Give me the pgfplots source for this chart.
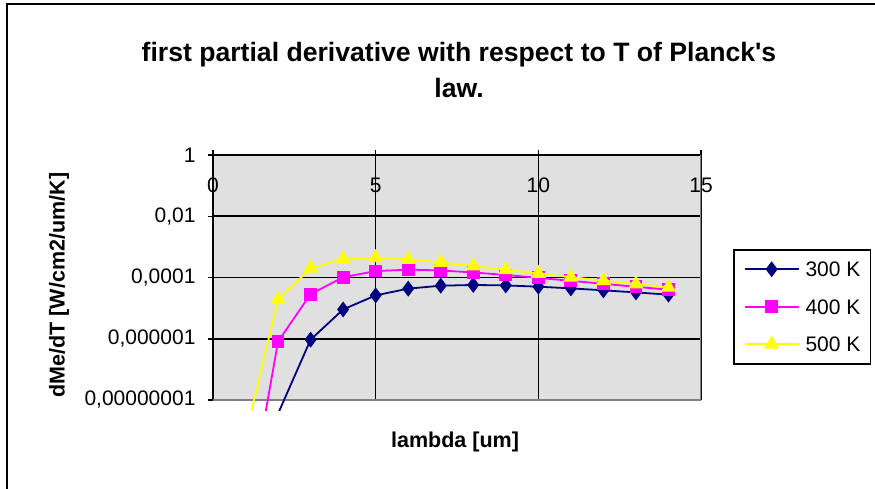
\documentclass[border=0pt]{standalone}
\usepackage{fontspec}
\setmainfont{Liberation Sans}
\usepackage{pgfplots}
\pgfplotsset{compat=1.18}
\usepackage{pgfplotstable}
\definecolor{navyS}{RGB}{0,0,128}
\definecolor{magS}{RGB}{255,0,255}
\definecolor{yelS}{RGB}{255,255,0}
\definecolor{plotbg}{RGB}{224,224,224}
\definecolor{borderG}{RGB}{128,128,128}

\pgfplotstableread{
lam T300 T400 T500
1 8.86e-18 8.0e-13 6.85e-10
2 3.59e-9 8.13e-7 1.90e-5
3 9.36e-7 2.87e-5 2.01e-4
4 9.06e-6 1.02e-4 3.96e-4
5 2.61e-5 1.62e-4 4.39e-4
6 4.33e-5 1.81e-4 3.88e-4
7 5.40e-5 1.70e-4 3.10e-4
8 5.71e-5 1.46e-4 2.38e-4
9 5.52e-5 1.21e-4 1.80e-4
10 5.02e-5 9.74e-5 1.36e-4
11 4.42e-5 7.79e-5 1.03e-4
12 3.82e-5 6.22e-5 7.93e-5
13 3.26e-5 4.97e-5 6.14e-5
14 2.76e-5 3.99e-5 4.82e-5
}\data

\begin{document}
\begin{tikzpicture}[x=1pt,y=1pt]
\useasboundingbox (0,0) rectangle (875,-488);
\draw[line width=2.2pt] (7,-492) -- (7,-4) -- (879,-4);
\node[font=\fontsize{26.6}{36}\selectfont\bfseries, align=center] at (459,-70)
  {first partial derivative with respect to T of Planck\textquotesingle s\\law.};

\begin{axis}[
  at={(213pt,-155pt)}, anchor=north west, scale only axis,
  width=488pt, height=245pt,
  xmin=0, xmax=15, ymode=log, ymin=1e-8, ymax=1,
  axis background/.style={fill=plotbg},
  axis x line*=top, axis y line*=left,
  axis line style={line width=2pt, black},
  xtick={0,5,10,15}, xticklabels={0,5,10,15},
  ytick={1e-8,1e-6,1e-4,1e-2,1},
  yticklabels={{0,00000001},{0,000001},{0,0001},{0,01},1},
  yminorticks=false, xminorticks=false,
  tick align=center, major tick length=10pt,
  tick style={line width=1.5pt, black},
  grid=major, major grid style={line width=1.6pt, black},
  ticklabel style={font=\fontsize{21}{21}\selectfont},
  xticklabel style={anchor=center, yshift=-35pt},
  yticklabel style={anchor=east, xshift=-9pt},
  xlabel={lambda [um]}, ylabel={dMe/dT [W/cm2/um/K]},
  every axis x label/.style={at={(axis description cs:0.496,-0.1714)}, anchor=center,
    font=\fontsize{21.5}{21.5}\selectfont\bfseries},
  every axis y label/.style={at={(axis description cs:-0.3156,0.469)}, anchor=center, rotate=90,
    font=\fontsize{21.5}{21.5}\selectfont\bfseries},
  legend style={at={(axis description cs:1.0656,0.6163)}, anchor=north west,
    draw=black, line width=1.5pt, inner xsep=10pt, inner ysep=12pt, row sep=22.5pt,
    font=\fontsize{21}{21}\selectfont,
    nodes={inner sep=0pt, text height=15pt, text depth=0pt}},
  legend cell align=left,
  /tikz/every odd column/.append style={column sep=6pt},
  legend image code/.code={\draw[mark repeat=2,mark phase=2,#1] plot coordinates {(0pt,0pt) (27pt,0pt) (54pt,0pt)};},
]
\addlegendimage{navyS, line width=1.8pt, mark=diamond*, mark size=6.5pt, mark options={solid}}
\addlegendentry{300 K}
\addlegendimage{magS, line width=1.8pt, mark=square*, mark size=5.5pt}
\addlegendentry{400 K}
\addlegendimage{yelS, line width=1.8pt, mark=triangle*, mark size=7pt}
\addlegendentry{500 K}
\draw[borderG, line width=2.5pt] (rel axis cs:0,0) -- (rel axis cs:1,0) -- (rel axis cs:1,1);
\end{axis}

\begin{axis}[
  at={(213pt,-155pt)}, anchor=north west, scale only axis,
  width=488pt, height=255pt,
  xmin=0, xmax=15, ymode=log, ymin=4.716e-9, ymax=1,
  hide axis, clip marker paths=true,
]
\addplot[navyS, line width=1.8pt, mark=diamond*, mark size=6.5pt] table[x=lam,y=T300]{\data};
\addplot[magS, line width=1.8pt, mark=square*, mark size=5.5pt] table[x=lam,y=T400]{\data};
\addplot[yelS, line width=1.8pt, mark=triangle*, mark size=7pt] table[x=lam,y=T500]{\data};
\end{axis}
\end{tikzpicture}
\end{document}
